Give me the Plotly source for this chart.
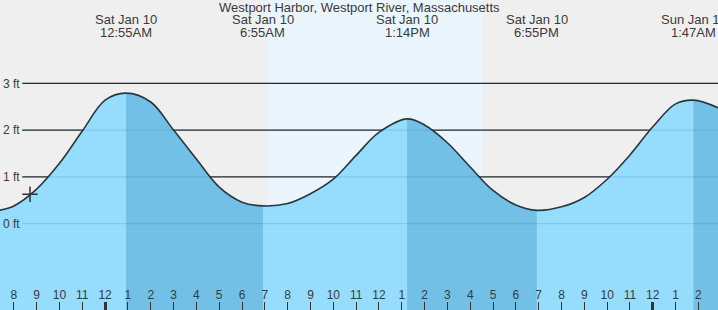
import plotly.graph_objects as go

# ---------------- data (hours relative to midnight starting Sat Jan 10) ----------------
TIDE_HOURS = [-4.606, -4, -3, -2, -1, 0, 0.917, 2, 3, 4, 5, 6, 6.917, 8, 9, 10, 11, 12,
              13.233, 14, 15, 16, 17, 18, 18.917, 20, 21, 22, 23, 24, 25, 25.783, 26.858]
TIDE_FEET = [0.29, 0.38, 0.74, 1.29, 1.98, 2.64, 2.79, 2.60, 2.00, 1.38, 0.78, 0.46, 0.38,
             0.43, 0.64, 0.95, 1.46, 1.95, 2.24, 2.11, 1.73, 1.21, 0.71, 0.40, 0.285,
             0.36, 0.56, 0.95, 1.47, 2.07, 2.56, 2.64, 2.48]

EXTREME_HOURS = [0.917, 6.917, 13.233, 18.917, 25.783]
EXTREME_TYPES = ["H", "L", "H", "L", "H"]
EXTREME_DAYS = ["Sat Jan 10", "Sat Jan 10", "Sat Jan 10", "Sat Jan 10", "Sun Jan 11"]
EXTREME_TIMES = ["12:55AM", "6:55AM", "1:14PM", "6:55PM", "1:47AM"]

SUNRISE_HOUR = 7.14
SUNSET_HOUR = 16.52

NOW_HOUR = -3.29
NOW_FEET = 0.63

HOUR_TICKS = list(range(-4, 27))
HOUR_LABELS = ["8", "9", "10", "11", "12", "1", "2", "3", "4", "5", "6", "7", "8", "9", "10", "11",
               "12", "1", "2", "3", "4", "5", "6", "7", "8", "9", "10", "11", "12", "1", "2"]
MIDNIGHT_TICKS = [0, 24]

Y_TICKS = [0, 1, 2, 3]
Y_LABELS = ["0 ft", "1 ft", "2 ft", "3 ft"]

TITLE = "Westport Harbor, Westport River, Massachusetts"

X_RANGE = [-4.606, 26.858]
Y_RANGE = [-1.844, 4.78]

# ---------------- styles ----------------
BG = "#efefef"
DAY_BG = "#eaf5fe"
LIGHT_FILL = "#96dcfd"
DARK_FILL = "#72c0e6"
TEXT = "#3a3a3a"
FONT = "Liberation Sans, Arial, sans-serif"

fig = go.Figure()

# baseline + light water fill
fig.add_trace(go.Scatter(x=[X_RANGE[0], X_RANGE[1]], y=[Y_RANGE[0], Y_RANGE[0]], mode="lines",
                         line=dict(width=0), hoverinfo="skip"))
fig.add_trace(go.Scatter(x=TIDE_HOURS, y=TIDE_FEET, mode="lines", line=dict(width=0, shape="spline"),
                         fill="tonexty", fillcolor=LIGHT_FILL, hoverinfo="skip"))

# dark fill from each high to the following low
segments = []
for i, t in enumerate(EXTREME_TYPES):
    if t == "H":
        start = EXTREME_HOURS[i]
        end = EXTREME_HOURS[i + 1] if i + 1 < len(EXTREME_HOURS) else TIDE_HOURS[-1]
        segments.append((start, end))
for start, end in segments:
    xs = [h for h in TIDE_HOURS if start <= h <= end]
    ys = [v for h, v in zip(TIDE_HOURS, TIDE_FEET) if start <= h <= end]
    fig.add_trace(go.Scatter(x=[start, end], y=[Y_RANGE[0], Y_RANGE[0]], mode="lines",
                             line=dict(width=0), hoverinfo="skip"))
    fig.add_trace(go.Scatter(x=xs, y=ys, mode="lines", line=dict(width=0, shape="spline"),
                             fill="tonexty", fillcolor=DARK_FILL, hoverinfo="skip"))

# tide curve
fig.add_trace(go.Scatter(x=TIDE_HOURS, y=TIDE_FEET, mode="lines",
                         line=dict(color="#333333", width=1.6, shape="spline"), hoverinfo="skip"))

# current time marker
fig.add_trace(go.Scatter(x=[NOW_HOUR], y=[NOW_FEET], mode="markers",
                         marker=dict(symbol="cross-thin", size=11, line=dict(color="#333333", width=1.5)),
                         hoverinfo="skip"))

# midnight ticks axis carrier
fig.add_trace(go.Scatter(x=MIDNIGHT_TICKS, y=[Y_RANGE[0]] * len(MIDNIGHT_TICKS), mode="markers",
                         marker=dict(opacity=0), xaxis="x2", hoverinfo="skip"))

shapes = [dict(type="rect", xref="x", yref="paper", x0=SUNRISE_HOUR, x1=SUNSET_HOUR, y0=0, y1=1,
               fillcolor=DAY_BG, line=dict(width=0), layer="below")]
for v in Y_TICKS:
    shapes.append(dict(type="line", xref="paper", yref="y", x0=0.031, x1=1, y0=v, y1=v,
                       line=dict(color="#2a2a2a", width=1.2), layer="below"))
    shapes.append(dict(type="line", xref="paper", yref="y", x0=0.031, x1=1, y0=v, y1=v,
                       line=dict(color="rgba(0,60,110,0.13)", width=1.2), layer="above"))

annotations = [dict(text=TITLE, xref="paper", yref="paper", x=0.5, y=1 - 7.5 / 310,
                    xanchor="center", yanchor="middle", showarrow=False,
                    font=dict(family=FONT, size=13, color=TEXT))]
for h, d, t in zip(EXTREME_HOURS, EXTREME_DAYS, EXTREME_TIMES):
    annotations.append(dict(text=d, xref="x", yref="paper", x=h, y=1 - 19.7 / 310,
                            xanchor="center", yanchor="middle", showarrow=False,
                            font=dict(family=FONT, size=13, color=TEXT)))
    annotations.append(dict(text=t, xref="x", yref="paper", x=h, y=1 - 32 / 310,
                            xanchor="center", yanchor="middle", showarrow=False,
                            font=dict(family=FONT, size=13, color=TEXT)))

fig.update_layout(
    width=718, height=310, margin=dict(l=0, r=0, t=0, b=0),
    paper_bgcolor=BG, plot_bgcolor=BG, showlegend=False, hovermode=False,
    font=dict(family=FONT, size=12, color=TEXT),
    xaxis=dict(range=X_RANGE, tickvals=HOUR_TICKS, ticktext=HOUR_LABELS, ticks="inside", ticklen=8,
               tickcolor="#333333", tickwidth=1, ticklabelposition="inside", ticklabeloverflow="allow",
               showgrid=False, zeroline=False, showline=False, fixedrange=True,
               tickfont=dict(family=FONT, size=12, color=TEXT)),
    xaxis2=dict(range=X_RANGE, overlaying="x", anchor="y", side="bottom", tickvals=MIDNIGHT_TICKS,
                ticks="inside", ticklen=8, tickwidth=3, tickcolor="#333333", showticklabels=False,
                showgrid=False, zeroline=False, showline=False, fixedrange=True),
    yaxis=dict(range=Y_RANGE, tickvals=Y_TICKS, ticktext=Y_LABELS, ticklabelposition="inside",
               ticklabeloverflow="allow",
               ticks="", showgrid=False, zeroline=False, showline=False, fixedrange=True,
               tickfont=dict(family=FONT, size=12, color=TEXT)),
    shapes=shapes, annotations=annotations,
)

fig.write_html("out.html")
